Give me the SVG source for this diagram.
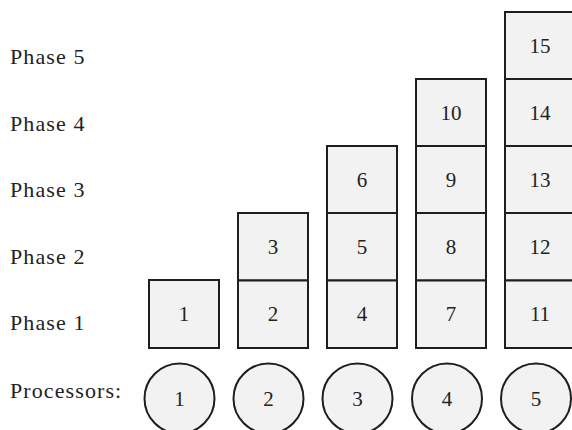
<svg xmlns="http://www.w3.org/2000/svg" width="572" height="430" viewBox="0 0 572 430">
<style>
.b{fill:#f1f2f1;stroke:#1e1e1e;stroke-width:2}
.t{font-family:"Liberation Serif","DejaVu Serif",serif;font-size:21px;fill:#222;text-anchor:middle;dominant-baseline:central}
.l{font-family:"Liberation Serif","DejaVu Serif",serif;font-size:22px;letter-spacing:1.1px;fill:#222}
</style>
<rect width="572" height="430" fill="#fff"/>
<g id="labels">
<text class="l" x="10" y="64">Phase 5</text>
<text class="l" x="10" y="131">Phase 4</text>
<text class="l" x="10" y="197">Phase 3</text>
<text class="l" x="10" y="264">Phase 2</text>
<text class="l" x="10" y="330">Phase 1</text>
<text class="l" x="10" y="398">Processors:</text>
</g>
<g id="col1">
<g id="t1"><rect class="b" x="149" y="280" width="70" height="68"/><text class="t" x="184" y="314">1</text></g>
</g>
<g id="col2">
<g id="t3"><rect class="b" x="238" y="213" width="70" height="67.5"/><text class="t" x="273" y="247">3</text></g>
<g id="t2"><rect class="b" x="238" y="280.5" width="70" height="67.5"/><text class="t" x="273" y="314">2</text></g>
</g>
<g id="col3">
<g id="t6"><rect class="b" x="327" y="146" width="70" height="67"/><text class="t" x="362" y="180">6</text></g>
<g id="t5"><rect class="b" x="327" y="213" width="70" height="67.5"/><text class="t" x="362" y="247">5</text></g>
<g id="t4"><rect class="b" x="327" y="280.5" width="70" height="67.5"/><text class="t" x="362" y="314">4</text></g>
</g>
<g id="col4">
<g id="t10"><rect class="b" x="416" y="79" width="70" height="67"/><text class="t" x="451" y="113">10</text></g>
<g id="t9"><rect class="b" x="416" y="146" width="70" height="67"/><text class="t" x="451" y="180">9</text></g>
<g id="t8"><rect class="b" x="416" y="213" width="70" height="67.5"/><text class="t" x="451" y="247">8</text></g>
<g id="t7"><rect class="b" x="416" y="280.5" width="70" height="67.5"/><text class="t" x="451" y="314">7</text></g>
</g>
<g id="col5">
<g id="t15"><rect class="b" x="505" y="12" width="70" height="67"/><text class="t" x="540" y="46">15</text></g>
<g id="t14"><rect class="b" x="505" y="79" width="70" height="67"/><text class="t" x="540" y="113">14</text></g>
<g id="t13"><rect class="b" x="505" y="146" width="70" height="67"/><text class="t" x="540" y="180">13</text></g>
<g id="t12"><rect class="b" x="505" y="213" width="70" height="67.5"/><text class="t" x="540" y="247">12</text></g>
<g id="t11"><rect class="b" x="505" y="280.5" width="70" height="67.5"/><text class="t" x="540" y="314">11</text></g>
</g>
<g id="processors">
<g id="p1"><circle class="b" cx="179.5" cy="398.5" r="35"/><text class="t" x="179.5" y="399">1</text></g>
<g id="p2"><circle class="b" cx="268.5" cy="398.5" r="35"/><text class="t" x="268.5" y="399">2</text></g>
<g id="p3"><circle class="b" cx="357.5" cy="398.5" r="35"/><text class="t" x="357.5" y="399">3</text></g>
<g id="p4"><circle class="b" cx="447" cy="398.5" r="35"/><text class="t" x="447" y="399">4</text></g>
<g id="p5"><circle class="b" cx="536" cy="398.5" r="35"/><text class="t" x="536" y="399">5</text></g>
</g>
<g id="connectors"/>
</svg>
